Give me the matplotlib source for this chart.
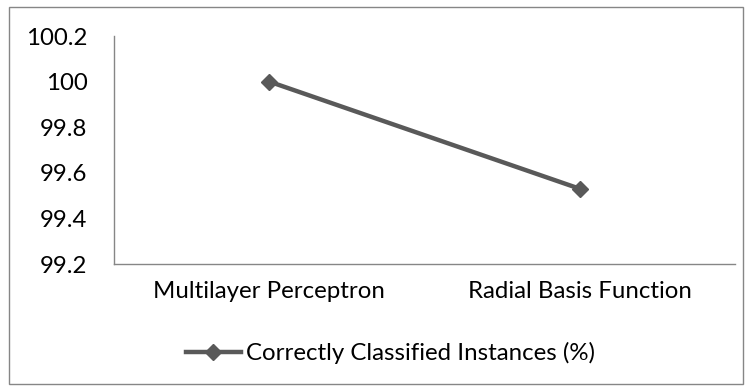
import matplotlib.pyplot as plt
from matplotlib.patches import Rectangle

# Classifier accuracy
classifiers = ["Multilayer Perceptron", "Radial Basis Function"]
accuracy = [100.0, 99.53]
series_label = "Correctly Classified Instances (%)"
y_ticks = [99.2, 99.4, 99.6, 99.8, 100.0, 100.2]
y_tick_labels = ["99.2", "99.4", "99.6", "99.8", "100", "100.2"]

plt.rcParams['font.family'] = ['Lato', 'DejaVu Sans']
FS = 17.3

fig = plt.figure(figsize=(7.52, 3.91), dpi=100)
ax = fig.add_axes([0.1516, 0.3248, 0.8258, 0.5831])

line_color = '#595959'
axis_color = '#868686'

x = list(range(len(classifiers)))
ax.plot(x, accuracy, color=line_color, linewidth=3.2, marker='D',
        markersize=8, markerfacecolor=line_color, markeredgecolor=line_color,
        label=series_label)

ax.set_xlim(-0.5, len(classifiers) - 0.5)
ax.set_ylim(99.2, 100.2)
ax.set_xticks(x)
ax.set_xticklabels(classifiers, fontsize=FS)
ax.set_yticks(y_ticks)
ax.set_yticklabels(y_tick_labels, fontsize=FS)
ax.tick_params(axis='y', length=0, pad=19)
ax.tick_params(axis='x', length=0, pad=12)

for side in ('top', 'right'):
    ax.spines[side].set_visible(False)
for side in ('left', 'bottom'):
    ax.spines[side].set_color(axis_color)
    ax.spines[side].set_linewidth(1.0)

leg = fig.legend(loc='center', bbox_to_anchor=(0.519, 0.097), frameon=False,
                 fontsize=FS, handlelength=2.3, handletextpad=0.2)

# Chart-area border
fig.patches.append(Rectangle((0.012, 0.018), 0.976, 0.964, transform=fig.transFigure,
                             fill=False, edgecolor=axis_color, linewidth=1.0))

fig.savefig('out.png', dpi=100)
